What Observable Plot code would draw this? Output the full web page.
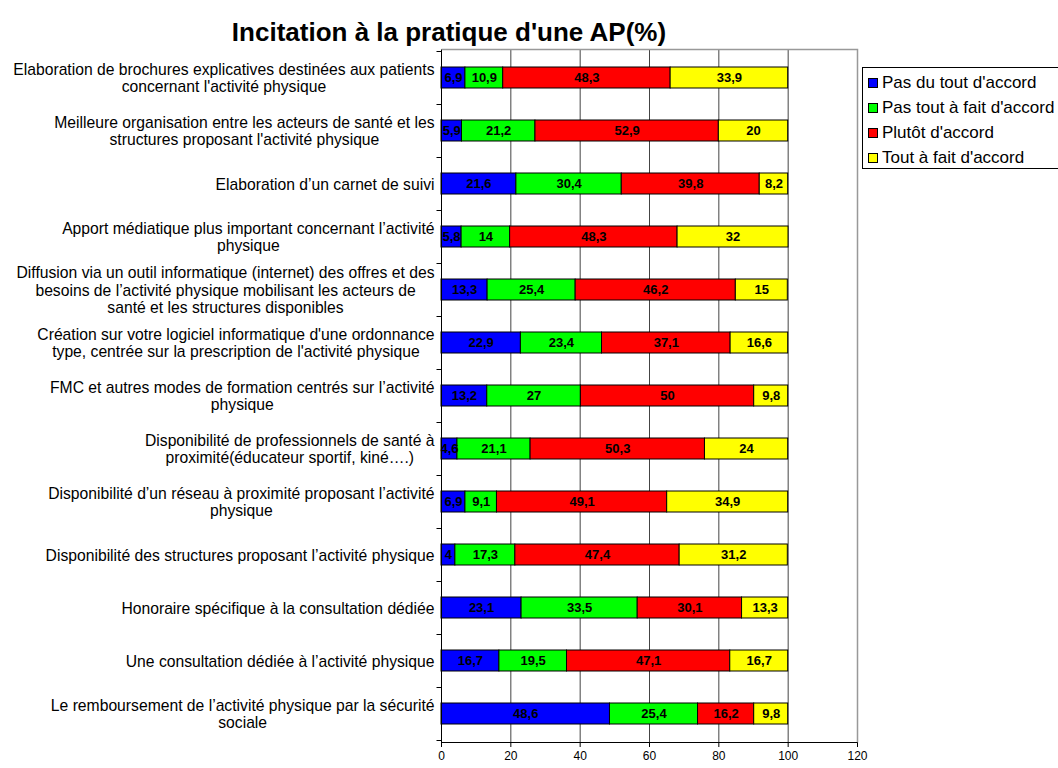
<!DOCTYPE html>
<html><head><meta charset="utf-8">
<script src="https://cdn.jsdelivr.net/npm/d3@7"></script>
<script src="https://cdn.jsdelivr.net/npm/@observablehq/plot@0.6"></script>
<style>
body{margin:0;background:#fff;font-family:Arial,"Liberation Sans",sans-serif;}
#wrap{position:relative;width:1058px;height:768px;overflow:hidden;background:#fff;}
#chart{position:absolute;left:0;top:0;}
#title{position:absolute;left:0;top:17px;width:898px;text-align:center;font-weight:bold;font-size:26px;line-height:30px;color:#000;}
#legend{position:absolute;left:862px;top:67px;width:210px;height:102px;border:1px solid #000;box-sizing:border-box;background:#fff;}
.item{position:absolute;left:5px;height:20px;font-size:17px;line-height:20px;white-space:nowrap;color:#000;}
.sw{position:absolute;left:0;top:5px;width:8px;height:8px;border:1px solid #000;}
.lt{position:absolute;left:14px;top:0;}
</style>
</head><body>
<div id="wrap">
  <div id="chart"></div>
  <div id="title"></div>
  <div id="legend"></div>
</div>
<script>
const titleText = "Incitation à la pratique d'une AP(%)";
const categories = [
  "Elaboration de brochures explicatives destinées aux patients\nconcernant l'activité physique",
  "Meilleure organisation entre les acteurs de santé et les\nstructures proposant l'activité physique",
  "Elaboration d’un carnet de suivi",
  "Apport médiatique plus important concernant l’activité\nphysique",
  "Diffusion via un outil informatique (internet) des offres et des\nbesoins de l’activité physique mobilisant les acteurs de\nsanté et les structures disponibles",
  "Création sur votre logiciel informatique d'une ordonnance\ntype, centrée sur la prescription de l'activité physique",
  "FMC et autres modes de formation centrés sur l’activité\nphysique",
  "Disponibilité de professionnels de santé à\nproximité(éducateur sportif, kiné….)",
  "Disponibilité d’un réseau à proximité proposant l’activité\nphysique",
  "Disponibilité des structures proposant l’activité physique",
  "Honoraire spécifique à la consultation dédiée",
  "Une consultation dédiée à l’activité physique",
  "Le remboursement de l’activité physique par la sécurité\nsociale"
];
const series = ["Pas du tout d'accord", "Pas tout à fait d'accord", "Plutôt d'accord", "Tout à fait d'accord"];
const colors = ["#0000ff", "#00ff00", "#ff0000", "#ffff00"];
const pasDuTout    = [6.9, 5.9, 21.6, 5.8, 13.3, 22.9, 13.2, 4.6, 6.9, 4, 23.1, 16.7, 48.6];
const pasToutAFait = [10.9, 21.2, 30.4, 14, 25.4, 23.4, 27, 21.1, 9.1, 17.3, 33.5, 19.5, 25.4];
const plutot       = [48.3, 52.9, 39.8, 48.3, 46.2, 37.1, 50, 50.3, 49.1, 47.4, 30.1, 47.1, 16.2];
const toutAFait    = [33.9, 20, 8.2, 32, 15, 16.6, 9.8, 24, 34.9, 31.2, 13.3, 16.7, 9.8];
const xTicks = [0, 20, 40, 60, 80, 100, 120];
const gridTicks = [20, 40, 60, 80, 100];

const values = [pasDuTout, pasToutAFait, plutot, toutAFait];
const data = categories.flatMap((c, i) => series.map((s, j) => ({cat: c, series: s, value: values[j][i]})));
const fmt = v => String(v).replace(".", ",");

function frameMark(index, scales, vals, dims) {
  const {width, height, marginLeft, marginRight, marginTop, marginBottom} = dims;
  const x0 = marginLeft, x1 = width - marginRight, y0 = marginTop, y1 = height - marginBottom;
  const g = d3.create("svg:g").attr("transform", "translate(0.5,0.5)");
  g.append("path").attr("d", `M${x0},${y0}H${x1}V${y1}`).attr("fill", "none").attr("stroke", "#999").attr("stroke-width", 1.5);
  g.append("path").attr("d", `M${x0},${y0}V${y1}H${x1}`).attr("fill", "none").attr("stroke", "#000");
  const y = scales.y;
  const step = y(categories[1]) - y(categories[0]);
  const bounds = categories.map(c => y(c)).concat([y(categories[categories.length - 1]) + step]);
  for (const b of bounds) {
    g.append("line").attr("x1", x0 - 5).attr("x2", x0).attr("y1", Math.round(b)).attr("y2", Math.round(b)).attr("stroke", "#000");
  }
  return g.node();
}

const plot = Plot.plot({
  width: 1058, height: 768,
  marginLeft: 441, marginRight: 201, marginTop: 49, marginBottom: 26,
  style: {fontFamily: "Arial, 'Liberation Sans', sans-serif", fontSize: "12px", background: "#fff", color: "#000"},
  x: {domain: [0, 120], ticks: xTicks, tickSize: 5, tickPadding: 4, label: null},
  y: {domain: categories, padding: 0, axis: null},
  color: {domain: series, range: colors},
  marks: [
    Plot.ruleX(gridTicks, {stroke: "#444"}),
    Plot.barX(data, Plot.stackX({x: "value", y: "cat", fill: "series", stroke: "#000", strokeWidth: 1, insetTop: 16, insetBottom: 16})),
    Plot.text(data, Plot.stackX({x: "value", y: "cat", z: "series", text: d => fmt(d.value), fontWeight: "bold", fontSize: 13, fill: "#000"})),
    Plot.text(categories, {x: 0, y: d => d, text: d => d, textAnchor: "end", dx: -7, fontSize: 15.7, lineHeight: 1.12, fill: "#000"}),
    frameMark
  ]
});
document.getElementById("chart").appendChild(plot);

// center each multi-line label block, with the block's right edge at the axis
const textGroups = plot.querySelectorAll('g[aria-label="text"]');
const labelGroup = textGroups[textGroups.length - 1];
labelGroup.querySelectorAll("text").forEach(t => {
  const tspans = t.querySelectorAll("tspan");
  let W = 0;
  if (tspans.length) tspans.forEach(s => { W = Math.max(W, s.getComputedTextLength()); });
  else W = t.getComputedTextLength();
  t.setAttribute("text-anchor", "middle");
  const tr = t.getAttribute("transform") || "";
  t.setAttribute("transform", tr + ` translate(${-W / 2},0)`);
});

document.getElementById("title").textContent = titleText;
const legend = document.getElementById("legend");
series.forEach((s, i) => {
  const it = document.createElement("div");
  it.className = "item";
  it.style.top = (5 + i * 25) + "px";
  const sw = document.createElement("span");
  sw.className = "sw";
  sw.style.background = colors[i];
  const lt = document.createElement("span");
  lt.className = "lt";
  lt.textContent = s;
  it.appendChild(sw); it.appendChild(lt);
  legend.appendChild(it);
});
</script>
</body></html>
